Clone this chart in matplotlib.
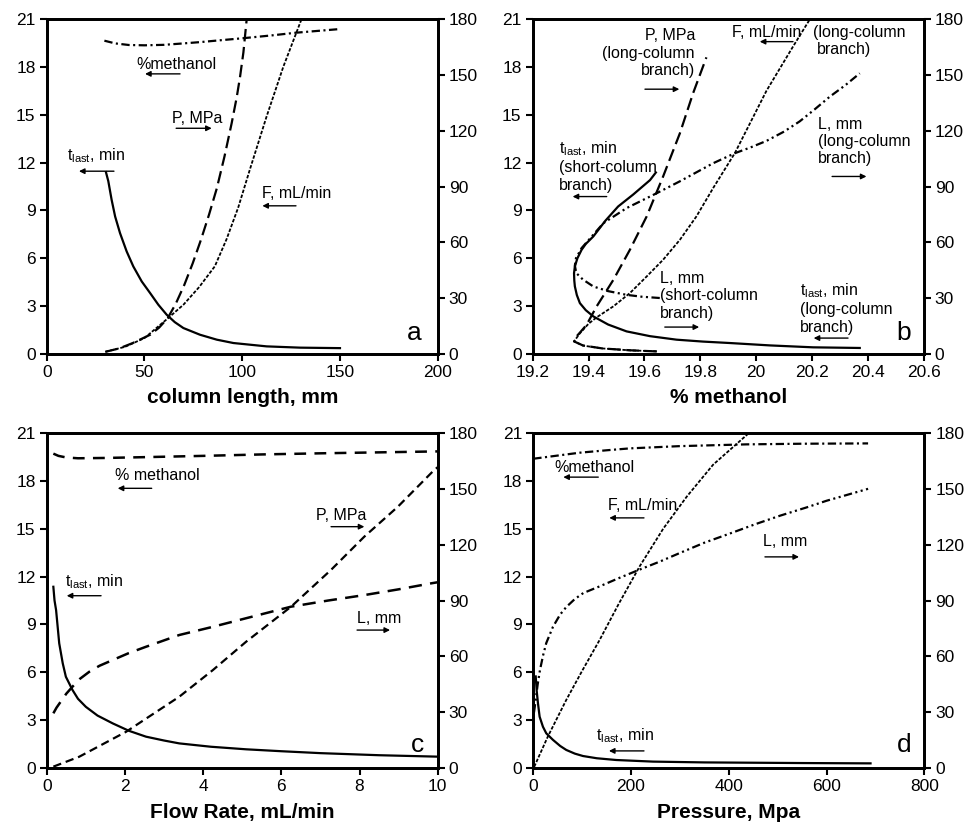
import numpy as np
import matplotlib.pyplot as plt

plt.rcParams['font.family'] = ['Liberation Sans', 'DejaVu Sans']
plt.rcParams['mathtext.default'] = 'regular'
plt.rcParams['lines.scale_dashes'] = False

T_LAST = r't$_{last}$, min'

# ---- panel a: vs column length (mm)
a_t_x = [30.3, 31.5, 33.2, 35.0, 37.5, 40.9, 44.3, 48.6, 52.9, 57.1, 61.4, 65.5,
         69.9, 78.4, 87, 95.5, 112.5, 129.6, 150]
a_t_y = [11.4, 10.84, 9.67, 8.62, 7.58, 6.43, 5.49, 4.55, 3.82, 3.09, 2.46, 2.0,
         1.63, 1.21, 0.9, 0.69, 0.48, 0.40, 0.37]
a_meth_x = [29.5, 35, 42, 50, 60, 70, 78.4, 90, 100, 115, 127.5, 150]
a_meth_y = [19.64, 19.47, 19.37, 19.35, 19.38, 19.47, 19.55, 19.68, 19.79, 19.97, 20.14, 20.37]
a_p_x = [30, 37, 44, 53, 57.5, 61.9, 66, 70.4, 74.7, 78.9, 83, 87, 90.9, 94.6,
         97.2, 98.9, 100.6, 102.3, 104]
a_p_y = [1.2, 3, 5.9, 10.4, 14.2, 19.3, 27, 37.2, 48.8, 61.4, 74.8, 89, 106, 124,
         138, 149, 162, 180, 195]
a_f_x = [30, 40, 50, 62, 70, 78, 86, 92, 98, 104, 112.5, 121, 131]
a_f_y = [0.14, 0.45, 1.0, 2.24, 3.1, 4.2, 5.5, 7.2, 9.2, 11.6, 14.9, 18.0, 21.2]

# ---- panel b: vs % methanol
b_t_x = [19.641, 19.62, 19.56, 19.506, 19.46, 19.417, 19.39, 19.375, 19.36, 19.351,
         19.348, 19.349, 19.351, 19.358, 19.369, 19.39, 19.417, 19.47, 19.536,
         19.62, 19.715, 19.81, 19.906, 20.05, 20.204, 20.371]
b_t_y = [11.38, 10.9, 10.0, 9.25, 8.35, 7.37, 6.9, 6.53, 6.0, 5.49, 5.07, 4.6, 4.24,
         3.7, 3.19, 2.75, 2.36, 1.85, 1.42, 1.12, 0.9, 0.78, 0.69, 0.54, 0.42, 0.38]
b_l_x = [19.655, 19.59, 19.536, 19.47, 19.417, 19.38, 19.356, 19.351, 19.355, 19.375,
         19.417, 19.453, 19.536, 19.644, 19.727, 19.846, 19.924, 19.98, 20.037,
         20.1, 20.156, 20.21, 20.264, 20.32, 20.371]
b_l_y = [30.1, 30.8, 31.8, 33.8, 36.3, 40.0, 43.5, 47.5, 51.5, 56.9, 64.1, 70.3, 78.4,
         86.4, 92.8, 102.5, 107.9, 111, 114.5, 119.5, 125, 131.5, 138.3, 144.5, 150.8]
b_p_x = [19.644, 19.55, 19.45, 19.38, 19.348, 19.351, 19.369, 19.393, 19.429, 19.489,
         19.548, 19.608, 19.667, 19.727, 19.774, 19.822]
b_p_y = [1.4, 2.0, 3.0, 4.6, 6.8, 8.5, 11.5, 15.7, 25.6, 39.9, 56, 73.9, 95.4, 118.6,
         140, 159.4]
b_f_x = [19.644, 19.55, 19.45, 19.38, 19.348, 19.369, 19.40, 19.429, 19.489, 19.548,
         19.608, 19.667, 19.727, 19.786, 19.846, 19.924, 20.037, 20.132, 20.193, 20.22]
b_f_y = [0.17, 0.23, 0.35, 0.53, 0.79, 1.3, 1.9, 2.3, 2.99, 3.82, 4.86, 5.91, 7.16,
         8.62, 10.4, 12.6, 16.5, 19.27, 21.0, 21.8]
b_ticks = [19.2, 19.4, 19.6, 19.8, 20.0, 20.2, 20.4, 20.6]
b_ticklabels = ['19.2', '19.4', '19.6', '19.8', '20', '20.2', '20.4', '20.6']

# ---- panel c: vs flow rate (mL/min)
c_meth_x = [0.17, 0.3, 0.5, 0.8, 1.5, 2.5, 4, 5.5, 7, 8.5, 10]
c_meth_y = [19.69, 19.55, 19.45, 19.40, 19.42, 19.47, 19.55, 19.64, 19.71, 19.77, 19.83]
c_p_x = [0.17, 0.83, 2.03, 3.39, 4.25, 5.10, 6.25, 7.27, 8.12, 8.98, 9.91, 10.0]
c_p_y = [0.9, 6.2, 19.6, 38.4, 52.7, 67.9, 86.7, 106.4, 124.2, 140.3, 160, 161.5]
c_l_x = [0.17, 0.25, 0.4, 0.5, 0.66, 0.85, 1.09, 1.35, 1.69, 2.1, 2.54, 3.39, 4.25,
         5.10, 6.25, 7.2, 8.12, 9.0, 9.83, 10.0]
c_l_y = [29.5, 32.5, 37, 40, 43.8, 48.0, 51.8, 55.0, 58.1, 61.8, 65.2, 71.5, 75.9,
         80.5, 86.7, 90.0, 92.9, 96.0, 99.2, 99.8]
c_t_x = [0.17, 0.2, 0.24, 0.32, 0.41, 0.49, 0.66, 0.8, 1.0, 1.3, 1.69, 2.1, 2.54,
         3.0, 3.39, 4.2, 5.1, 6.0, 7.0, 8.5, 10]
c_t_y = [11.36, 10.5, 9.9, 7.82, 6.57, 5.73, 4.9, 4.35, 3.85, 3.3, 2.81, 2.35, 1.98,
         1.74, 1.56, 1.35, 1.19, 1.07, 0.95, 0.82, 0.73]

# ---- panel d: vs pressure (MPa)
d_meth_x = [0, 50, 95.5, 150, 198, 300, 436, 550, 685]
d_meth_y = [19.37, 19.57, 19.75, 19.9, 20.02, 20.16, 20.27, 20.31, 20.33]
d_f_x = [2, 30, 67.5, 100, 135.9, 175, 217.7, 266, 314, 368, 442, 460]
d_f_y = [0.1, 2.0, 4.28, 6.1, 8.04, 10.3, 12.64, 15.0, 17.0, 19.0, 21.0, 21.4]
d_l_x = [1.5, 5, 9, 13.7, 20, 26.6, 40.3, 55, 67.5, 85, 102.3, 135.9, 175, 217.7,
         260, 300, 350, 403, 455, 505, 560, 600, 640, 685]
d_l_y = [30, 36.7, 45, 52.7, 60.5, 67.2, 75.9, 82.5, 86.5, 90.8, 94, 97.6, 102,
         106.6, 111, 115.5, 121, 126, 131, 135.5, 140, 143.5, 146.5, 149.9]
d_t_x = [5, 7, 9.6, 13, 19.8, 26.6, 40.3, 55, 67.5, 85, 101.7, 130, 169.8, 245,
         350, 450, 550, 690]
d_t_y = [5.75, 4.85, 4.07, 3.23, 2.6, 2.19, 1.78, 1.4, 1.15, 0.92, 0.77, 0.63, 0.52,
         0.42, 0.37, 0.35, 0.33, 0.31]

# line styles (dash lengths in points)
SOLID = dict(color='k', lw=1.6, ls='-')
DASHDOT = dict(color='k', lw=1.6, dashes=(6, 2.5, 1.5, 2.5))
DASHDOTDOT = dict(color='k', lw=1.6, dashes=(6, 2.5, 1.5, 2.5, 1.5, 2.5))
LONGDASH = dict(color='k', lw=1.6, dashes=(9, 4))
FINEDASH = dict(color='k', lw=1.3, dashes=(2.5, 1.2))
DASH_C1 = dict(color='k', lw=1.8, dashes=(8.5, 6))
DASH_C2 = dict(color='k', lw=1.6, dashes=(6, 3.5))
DASH_C3 = dict(color='k', lw=1.8, dashes=(9.5, 6))

TXT = 11.5


def setup(ax, xlim, xticks, xlabel, xticklabels=None):
    ax.set_xlim(xlim)
    ax.set_ylim(0, 21)
    ax.set_yticks(range(0, 22, 3))
    ax.set_xticks(xticks)
    if xticklabels is not None:
        ax.set_xticklabels(xticklabels)
    ax.set_xlabel(xlabel, fontsize=15, fontweight='bold', labelpad=6)
    ax2 = ax.twinx()
    ax2.set_ylim(0, 180)
    ax2.set_yticks(range(0, 181, 30))
    for a in (ax, ax2):
        a.tick_params(direction='out', length=5, width=1.5, labelsize=12.5, pad=3)
        for s in a.spines.values():
            s.set_linewidth(2)
    return ax2


def arrow(ax, x0, x1, y):
    ax.annotate('', xy=(x1, y), xytext=(x0, y),
                arrowprops=dict(arrowstyle='-|>', lw=1, color='k',
                                mutation_scale=8, shrinkA=0, shrinkB=0))


fig = plt.figure(figsize=(9.71, 8.22), dpi=100)
axa = fig.add_axes([0.0481, 0.5693, 0.4027, 0.4076])
axb = fig.add_axes([0.5486, 0.5693, 0.4027, 0.4076])
axc = fig.add_axes([0.0481, 0.0653, 0.4027, 0.4083])
axd = fig.add_axes([0.5492, 0.0653, 0.4027, 0.4083])

# panel a
a2 = setup(axa, (0, 200), range(0, 201, 50), 'column length, mm')
axa.plot(a_t_x, a_t_y, **SOLID)
axa.plot(a_meth_x, a_meth_y, **DASHDOT)
axa.plot(a_f_x, a_f_y, **FINEDASH)
a2.plot(a_p_x, a_p_y, **LONGDASH)
axa.text(46.0, 18.16, '%methanol', fontsize=TXT, va='center')
arrow(axa, 68.2, 50.3, 17.56)
axa.text(64.3, 14.74, 'P, MPa', fontsize=TXT, va='center')
arrow(axa, 66.2, 84.4, 14.15)
axa.text(10.2, 12.42, T_LAST, fontsize=TXT, va='center')
arrow(axa, 34.4, 16.5, 11.46)
axa.text(110.0, 10.08, 'F, mL/min', fontsize=TXT, va='center')
arrow(axa, 127.5, 110.3, 9.29)
axa.text(184.1, 1.32, 'a', fontsize=19, va='center')

# panel b
b2 = setup(axb, (19.2, 20.6), b_ticks, '% methanol', b_ticklabels)
axb.plot(b_t_x, b_t_y, **SOLID)
axb.plot(b_f_x, b_f_y, **FINEDASH)
b2.plot(b_l_x, b_l_y, **DASHDOTDOT)
b2.plot(b_p_x, b_p_y, **LONGDASH)
axb.text(19.781, 18.85, 'P, MPa\n(long-column\nbranch)', fontsize=TXT,
         ha='right', va='center', multialignment='right')
arrow(axb, 19.602, 19.725, 16.6)
axb.text(19.912, 20.16, 'F, mL/min', fontsize=TXT, va='center')
axb.text(20.204, 20.16, '(long-column', fontsize=TXT, va='center')
axb.text(20.218, 19.06, 'branch)', fontsize=TXT, va='center')
arrow(axb, 20.132, 20.013, 19.58)
axb.text(20.222, 13.32, 'L, mm\n(long-column\nbranch)', fontsize=TXT, va='center')
arrow(axb, 20.272, 20.395, 11.13)
axb.text(19.294, 11.79, T_LAST + '\n(short-column\nbranch)', fontsize=TXT, va='center')
arrow(axb, 19.465, 19.343, 9.87)
axb.text(19.656, 3.65, 'L, mm\n(short-column\nbranch)', fontsize=TXT, va='center')
arrow(axb, 19.673, 19.796, 1.69)
axb.text(20.156, 2.88, T_LAST + '\n(long-column\nbranch)', fontsize=TXT, va='center')
arrow(axb, 20.329, 20.206, 1.0)
axb.text(20.502, 1.32, 'b', fontsize=19, va='center')

# panel c
c2 = setup(axc, (0, 10), range(0, 11, 2), 'Flow Rate, mL/min')
axc.plot(c_t_x, c_t_y, **SOLID)
axc.plot(c_meth_x, c_meth_y, **DASH_C1)
c2.plot(c_p_x, c_p_y, **DASH_C2)
c2.plot(c_l_x, c_l_y, **DASH_C3)
axc.text(1.756, 18.31, '% methanol', fontsize=TXT, va='center')
arrow(axc, 2.685, 1.816, 17.52)
axc.text(6.888, 15.85, 'P, MPa', fontsize=TXT, va='center')
arrow(axc, 7.272, 8.124, 15.12)
axc.text(0.469, 11.68, T_LAST, fontsize=TXT, va='center')
arrow(axc, 1.39, 0.512, 10.8)
axc.text(7.937, 9.38, 'L, mm', fontsize=TXT, va='center')
arrow(axc, 7.937, 8.781, 8.65)
axc.text(9.318, 1.46, 'c', fontsize=19, va='center')

# panel d
d2 = setup(axd, (0, 800), range(0, 801, 200), 'Pressure, Mpa')
axd.plot(d_t_x, d_t_y, **SOLID)
axd.plot(d_meth_x, d_meth_y, **DASHDOT)
axd.plot(d_f_x, d_f_y, **FINEDASH)
d2.plot(d_l_x, d_l_y, **DASHDOTDOT)
axd.text(42.3, 18.85, '%methanol', fontsize=TXT, va='center')
arrow(axd, 133, 61.4, 18.22)
axd.text(153.5, 16.46, 'F, mL/min', fontsize=TXT, va='center')
arrow(axd, 226.5, 155.5, 15.67)
axd.text(470.7, 14.21, 'L, mm', fontsize=TXT, va='center')
arrow(axd, 474, 543.7, 13.23)
axd.text(128.2, 2.03, T_LAST, fontsize=TXT, va='center')
arrow(axd, 226.5, 154.8, 1.09)
axd.text(743.5, 1.46, 'd', fontsize=19, va='center')

fig.savefig('out.png', dpi=100)
